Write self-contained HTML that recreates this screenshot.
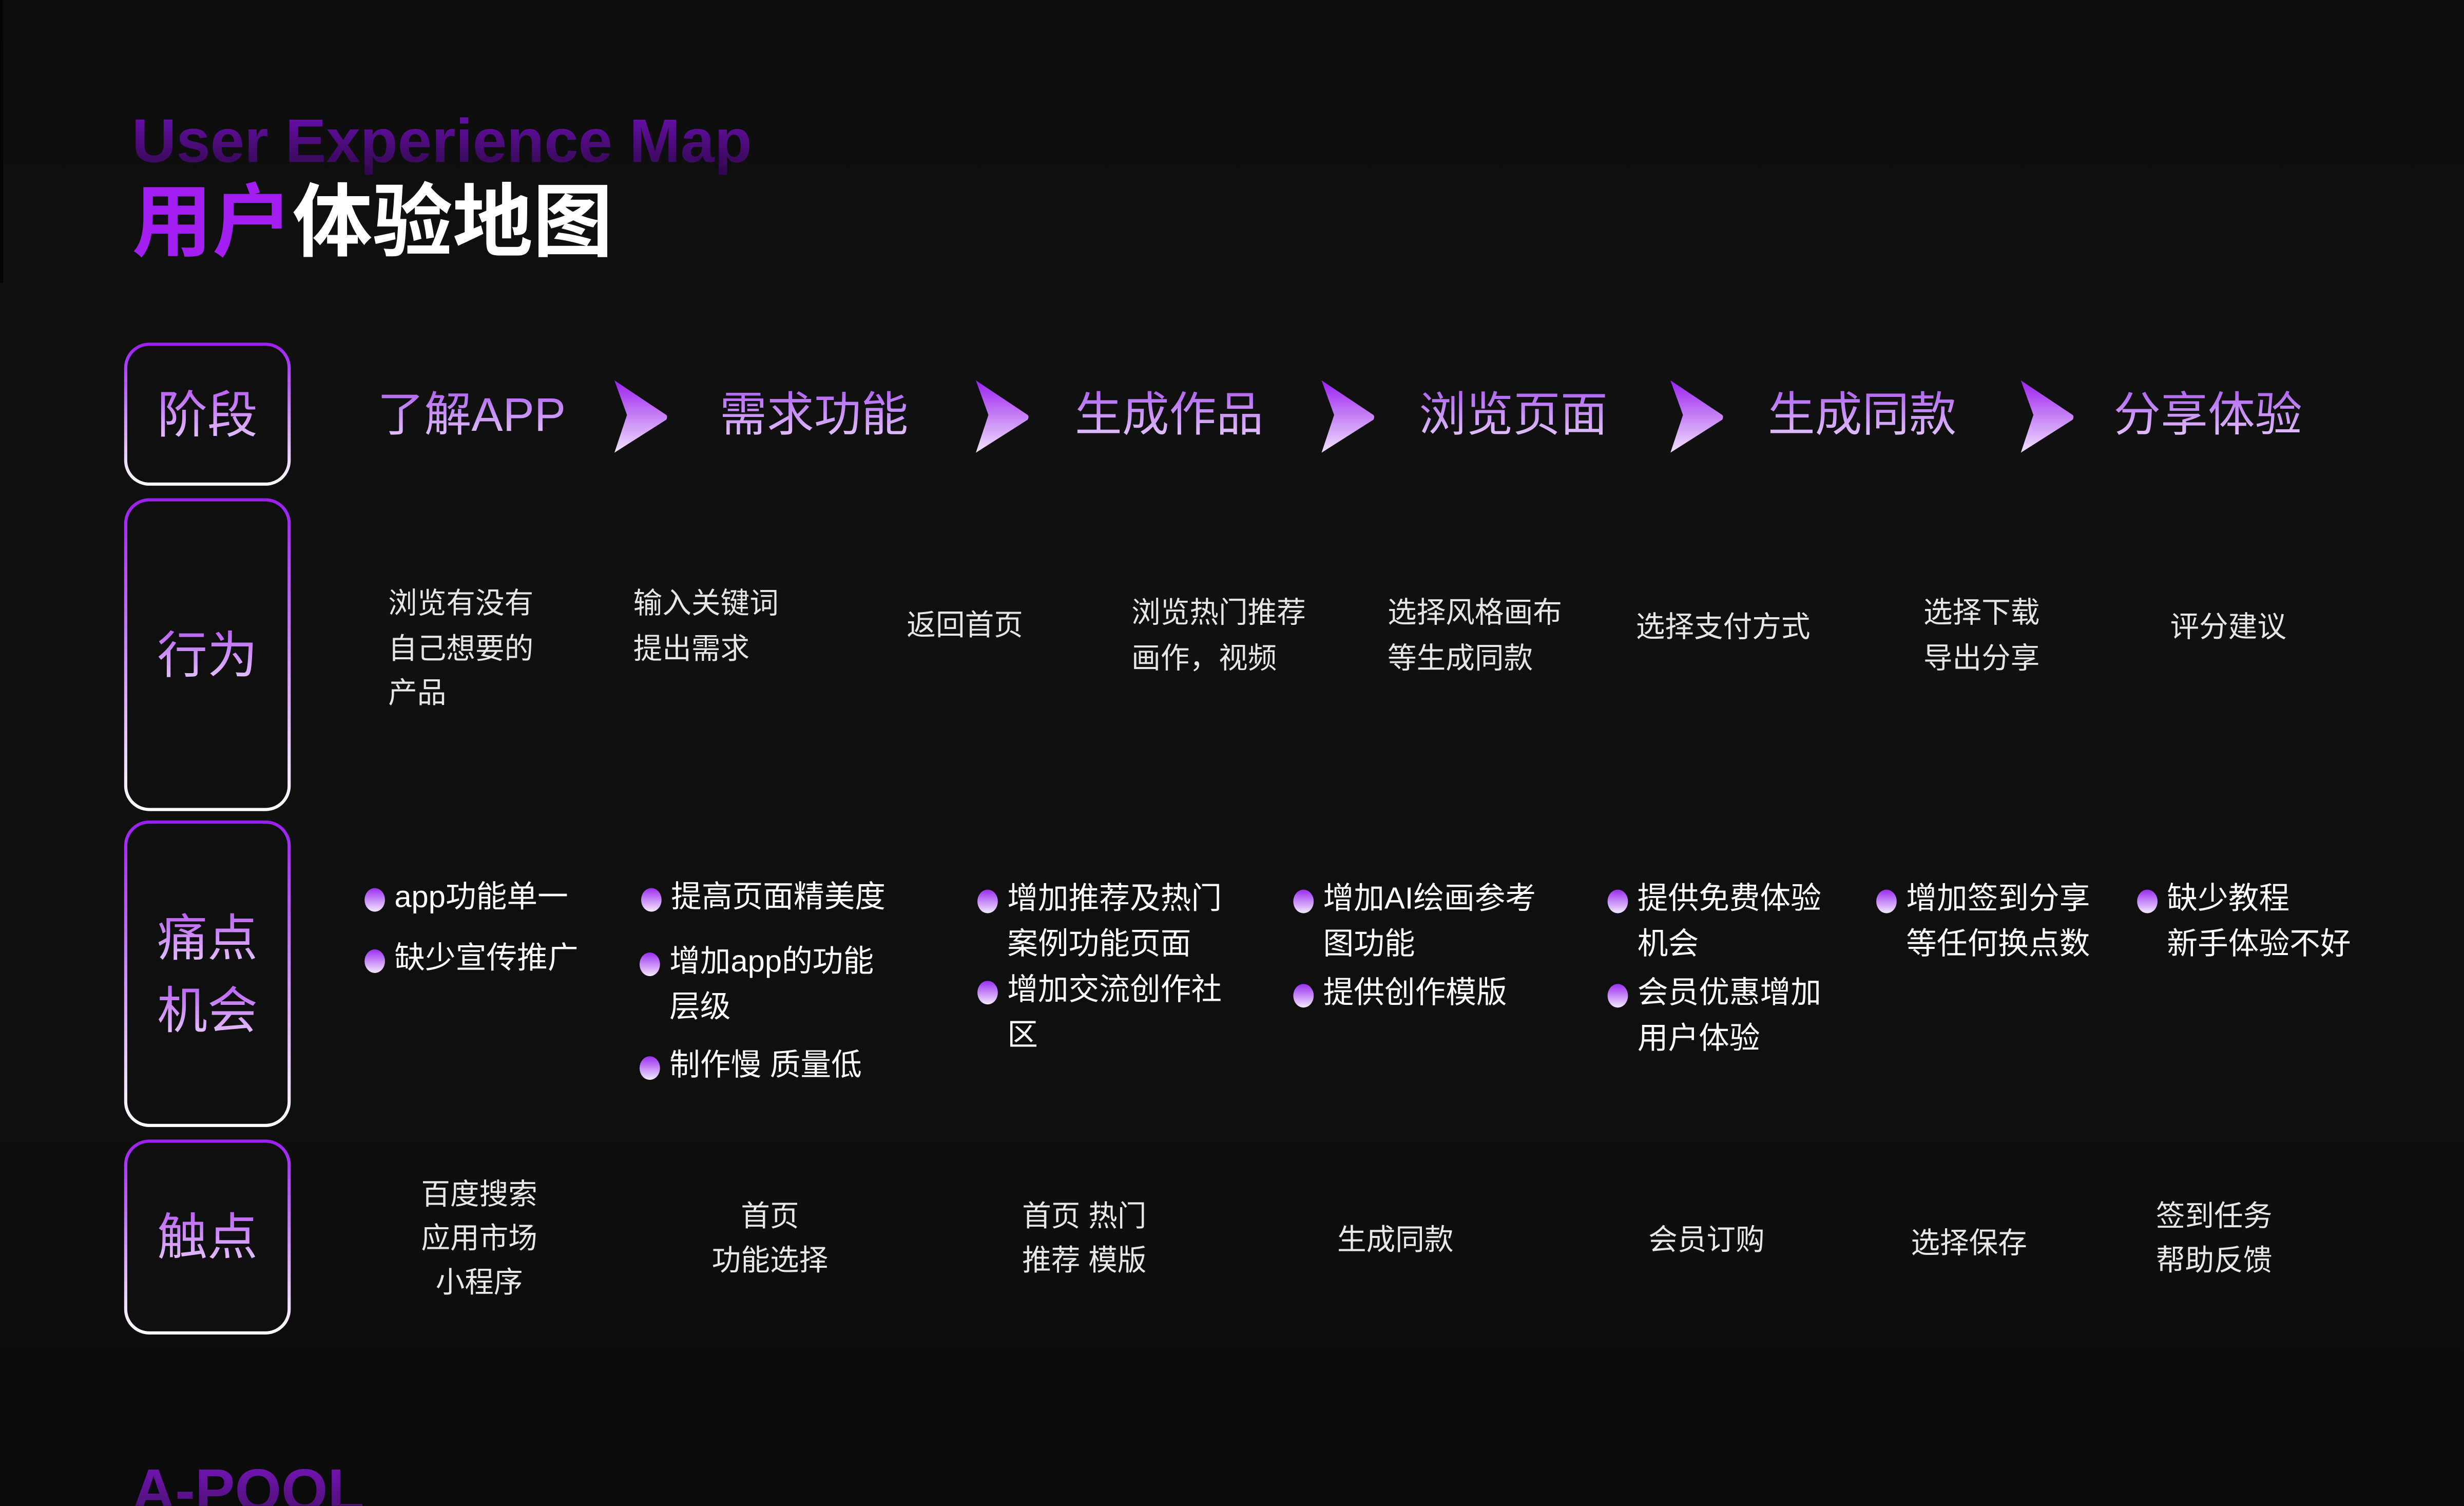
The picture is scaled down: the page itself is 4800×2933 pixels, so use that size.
<!DOCTYPE html>
<html><head><meta charset="utf-8"><style>
html,body{margin:0;padding:0;background:#0f0f0f;width:4800px;height:2932px;overflow:hidden}
#s{position:absolute;left:0;top:0;width:1568px;height:958px;transform:scale(3.0612);transform-origin:0 0;background:linear-gradient(#0d0d0d 0,#101010 200px,#0f0f0f 700px,#0b0b0b 958px);font-family:"Liberation Sans","Noto Sans CJK SC",sans-serif;overflow:hidden}
.a{position:absolute;white-space:nowrap}
.en{font-family:"Liberation Sans","Noto Sans CJK SC",sans-serif;font-weight:bold;font-size:39px;background:linear-gradient(#7010b8,#2a0840);-webkit-background-clip:text;background-clip:text;color:transparent;letter-spacing:0px}
.box{position:absolute;left:79px;width:106px;border-radius:16px;padding:2px;background:linear-gradient(#9a1ef0,#ffffff);box-sizing:border-box}
.box div{width:100%;height:100%;background:#0f0f0f;border-radius:14px;display:flex;align-items:center;justify-content:center;flex-direction:column}
.box span{font-size:32px;line-height:46px;background:linear-gradient(#b04cf2,#efd8ff);-webkit-background-clip:text;background-clip:text;color:transparent}
.st{position:absolute;top:244px;font-size:30px;line-height:42px;background:linear-gradient(#a855f0,#f0dcff);-webkit-background-clip:text;background-clip:text;color:transparent;white-space:nowrap}
.ar{position:absolute;top:242px;width:36px;height:46px}
.bh{position:absolute;font-size:18.5px;line-height:28.5px;color:#e6e6e6;white-space:nowrap}
.pp{position:absolute;font-size:19.5px;line-height:29px;color:#fff;white-space:nowrap}
.pp i{position:absolute;left:-19px;width:13px;height:15px;border-radius:50%;background:linear-gradient(#9a2ef0,#f4e8ff)}
.tp{position:absolute;font-size:18.5px;line-height:28px;color:#e8e8e8;text-align:center;white-space:nowrap}
</style></head><body><div id="s">
<div style="position:absolute;left:0;top:0;width:2px;height:180px;background:#050505"></div>
<div class="a en" style="left:84px;top:68px;line-height:46px">User Experience Map</div>
<div class="a" style="left:84px;top:105px;font-size:51px;line-height:64px;font-weight:bold;font-family:'Noto Sans CJK SC',sans-serif"><span style="color:#a21ef2">用户</span><span style="color:#fff">体验地图</span></div>

<div class="box" style="top:218px;height:91px"><div><span>阶段</span></div></div>
<div class="box" style="top:317px;height:199px"><div><span>行为</span></div></div>
<div class="box" style="top:522px;height:195px"><div><span>痛点</span><span>机会</span></div></div>
<div class="box" style="top:725px;height:124px"><div><span>触点</span></div></div>

<svg width="0" height="0" style="position:absolute"><defs><linearGradient id="g" x1="0" y1="0" x2="0" y2="1"><stop offset="0" stop-color="#9a22ee"/><stop offset="1" stop-color="#f2e2ff"/></linearGradient></defs></svg>
<div class="st" style="left:240px">了解APP</div>
<div class="st" style="left:458px">需求功能</div>
<div class="st" style="left:684px">生成作品</div>
<div class="st" style="left:903px">浏览页面</div>
<div class="st" style="left:1125px">生成同款</div>
<div class="st" style="left:1345px">分享体验</div>
<svg class="ar" style="left:390px" viewBox="0 0 36 46"><path d="M0 0 L34 40 Q36 43 34 46 L0 46 Z" fill="none"/><path d="M1 1 L34 41 Q35 43 34 44 L1 87Z" fill="none"/><path d="M1 0 L34 22 Q35 23 34 25 L1 46 L9 22 Z" fill="url(#g)"/></svg>
<svg class="ar" style="left:620px" viewBox="0 0 36 46"><path d="M1 0 L34 22 Q35 23 34 25 L1 46 L9 22 Z" fill="url(#g)"/></svg>
<svg class="ar" style="left:840px" viewBox="0 0 36 46"><path d="M1 0 L34 22 Q35 23 34 25 L1 46 L9 22 Z" fill="url(#g)"/></svg>
<svg class="ar" style="left:1062px" viewBox="0 0 36 46"><path d="M1 0 L34 22 Q35 23 34 25 L1 46 L9 22 Z" fill="url(#g)"/></svg>
<svg class="ar" style="left:1285px" viewBox="0 0 36 46"><path d="M1 0 L34 22 Q35 23 34 25 L1 46 L9 22 Z" fill="url(#g)"/></svg>

<div class="bh" style="left:247px;top:370px">浏览有没有<br>自己想要的<br>产品</div>
<div class="bh" style="left:403px;top:370px">输入关键词<br>提出需求</div>
<div class="bh" style="left:577px;top:384px">返回首页</div>
<div class="bh" style="left:720px;top:376px">浏览热门推荐<br>画作，视频</div>
<div class="bh" style="left:883px;top:376px">选择风格画布<br>等生成同款</div>
<div class="bh" style="left:1041px;top:385px">选择支付方式</div>
<div class="bh" style="left:1224px;top:376px">选择下载<br>导出分享</div>
<div class="bh" style="left:1381px;top:385px">评分建议</div>

<div class="pp" style="left:251px;top:557px"><i style="top:8px"></i>app功能单一</div>
<div class="pp" style="left:251px;top:596px"><i style="top:8px"></i>缺少宣传推广</div>
<div class="pp" style="left:427px;top:557px"><i style="top:8px"></i>提高页面精美度</div>
<div class="pp" style="left:426px;top:598px"><i style="top:8px"></i>增加app的功能<br>层级</div>
<div class="pp" style="left:426px;top:664px"><i style="top:8px"></i>制作慢 质量低</div>
<div class="pp" style="left:641px;top:558px"><i style="top:8px"></i>增加推荐及热门<br>案例功能页面</div>
<div class="pp" style="left:641px;top:616px"><i style="top:8px"></i>增加交流创作社<br>区</div>
<div class="pp" style="left:842px;top:558px"><i style="top:8px"></i>增加AI绘画参考<br>图功能</div>
<div class="pp" style="left:842px;top:618px"><i style="top:8px"></i>提供创作模版</div>
<div class="pp" style="left:1042px;top:558px"><i style="top:8px"></i>提供免费体验<br>机会</div>
<div class="pp" style="left:1042px;top:618px"><i style="top:8px"></i>会员优惠增加<br>用户体验</div>
<div class="pp" style="left:1213px;top:558px"><i style="top:8px"></i>增加签到分享<br>等任何换点数</div>
<div class="pp" style="left:1379px;top:558px"><i style="top:8px"></i>缺少教程<br>新手体验不好</div>

<div class="tp" style="left:255px;width:100px;top:746px">百度搜索<br>应用市场<br>小程序</div>
<div class="tp" style="left:440px;width:100px;top:760px">首页<br>功能选择</div>
<div class="tp" style="left:640px;width:100px;top:760px">首页 热门<br>推荐 模版</div>
<div class="tp" style="left:838px;width:100px;top:775px">生成同款</div>
<div class="tp" style="left:1036px;width:100px;top:775px">会员订购</div>
<div class="tp" style="left:1203px;width:100px;top:777px">选择保存</div>
<div class="tp" style="left:1359px;width:100px;top:760px">签到任务<br>帮助反馈</div>

<div class="a en" style="left:84px;top:926px;font-size:38px;line-height:46px;background:linear-gradient(#7a14c0,#401060);-webkit-background-clip:text;background-clip:text">A-POOL</div>
</div></body></html>
